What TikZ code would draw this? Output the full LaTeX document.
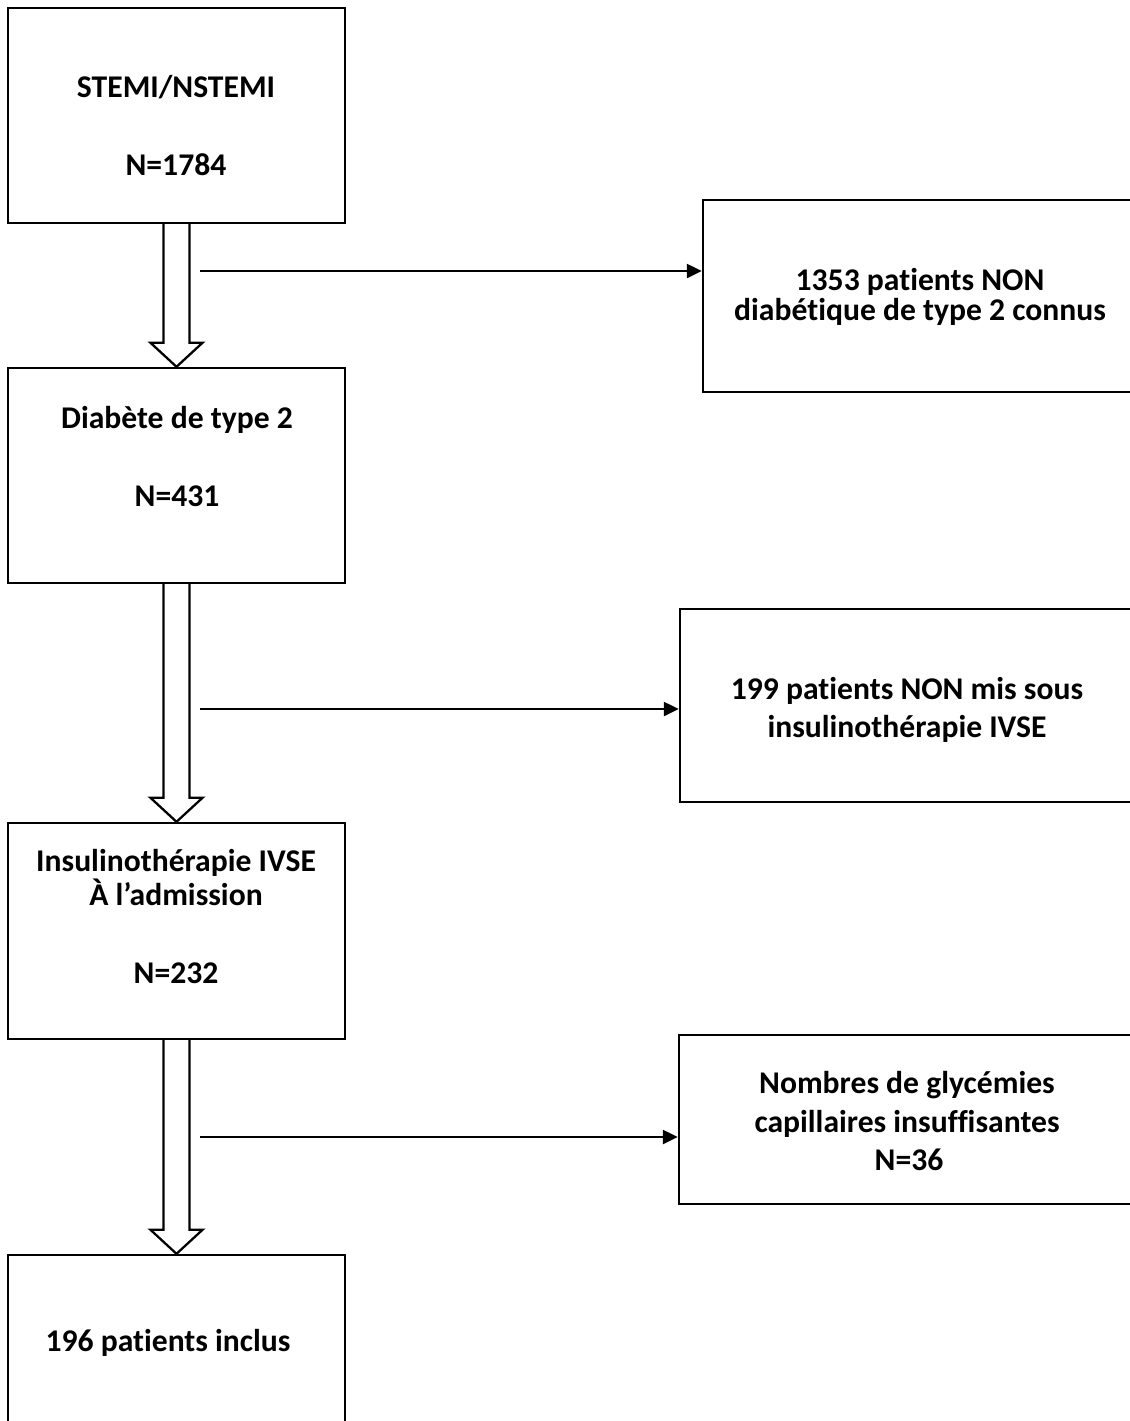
\documentclass[tikz,border=0pt]{standalone}
\usepackage{fontspec}
\setmainfont{Carlito}[Ligatures=NoCommon]
\usetikzlibrary{arrows.meta, calc}

\newcommand{\bigarrow}[2]{%
  \draw[flow] ($(#1.south)+(-13,0)$) |- ($(#2.north)+(-26,-24)$) -- (#2.north)
    -- ($(#2.north)+(26,-24)$) -| ($(#1.south)+(13,0)$);}

\begin{document}
\begin{tikzpicture}[x=0.02cm, y=-0.02cm,
  box/.style={draw, line width=1.4pt, minimum width=6.74cm, inner sep=0pt},
  lbl/.style={font=\fontsize{18}{21}\selectfont\bfseries, anchor=base, inner sep=0pt},
  flow/.style={draw, line width=1.3pt, line join=miter},
  side/.style={line width=1.3pt, -{Triangle[length=0.3cm, width=0.28cm]}},
]
  \clip (0,0) rectangle (1130,1421);

  % Main column
  \node[box, minimum height=4.3cm] (stemi) at (176.5,115.5) {};
  \node[lbl] (stemi-l1) at (176,97.5) {STEMI/NSTEMI};
  \node[lbl] (stemi-l2) at (176,175.5) {N=1784};

  \node[box, minimum height=4.3cm] (diab) at (176.5,475.5) {};
  \node[lbl] (diab-l1) at (177,428.5) {Diabète de type 2};
  \node[lbl] (diab-l2) at (177,506.5) {N=431};

  \node[box, minimum height=4.32cm] (insul) at (176.5,931) {};
  \node[lbl] (insul-l1) at (176,871.5) {Insulinothérapie IVSE};
  \node[lbl] (insul-l2) at (176,905.5) {À l’admission};
  \node[lbl] (insul-l3) at (176,983.5) {N=232};

  \node[box, minimum height=4.3cm] (inclus) at (176.5,1362.5) {};
  \node[lbl] (inclus-l1) at (168,1351.5) {196 patients inclus};

  % Exclusions
  \node[box, minimum width=8.74cm, minimum height=3.84cm] (nondiab) at (921.5,296) {};
  \node[lbl] (nondiab-l1) at (920,290) {1353 patients NON};
  \node[lbl] (nondiab-l2) at (920,320) {diabétique de type 2 connus};

  \node[box, minimum width=9.2cm, minimum height=3.86cm] (noninsul) at (910,705.5) {};
  \node[lbl] (noninsul-l1) at (907,699) {199 patients NON mis sous};
  \node[lbl] (noninsul-l2) at (907,737) {insulinothérapie IVSE};

  \node[box, minimum width=9.22cm, minimum height=3.38cm] (glyc) at (909.5,1119.5) {};
  \node[lbl] (glyc-l1) at (907,1093) {Nombres de glycémies};
  \node[lbl] (glyc-l2) at (907,1132) {capillaires insuffisantes};
  \node[lbl] (glyc-l3) at (909,1170) {N=36};

  % Hollow arrows
  \bigarrow{stemi}{diab}
  \bigarrow{diab}{insul}
  \bigarrow{insul}{inclus}

  % Side arrows
  \coordinate (out1) at (200,271);
  \coordinate (out2) at (200,709);
  \coordinate (out3) at (200,1137);
  \draw[side] (out1) -- (out1 -| nondiab.west);
  \draw[side] (out2) -- (out2 -| noninsul.west);
  \draw[side] (out3) -- (out3 -| glyc.west);
\end{tikzpicture}
\end{document}
